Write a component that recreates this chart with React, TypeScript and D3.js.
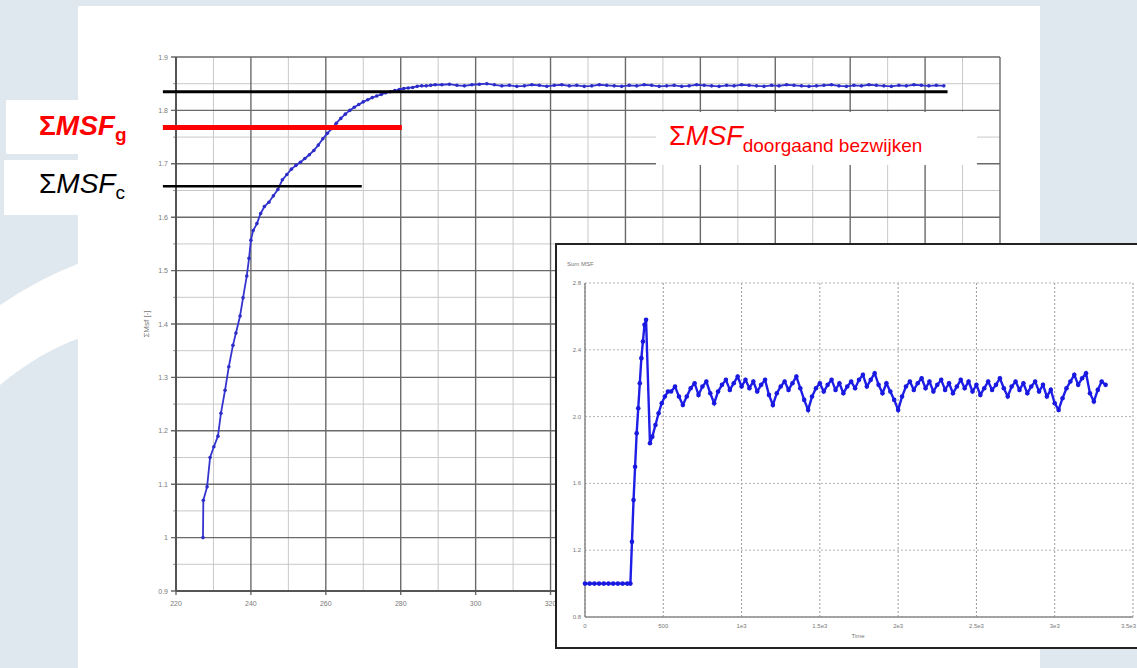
import * as d3 from "d3";

// main chart: sum MSF vs. load step
const mainX = [
  227.2, 227.3, 228.3, 229.1, 230.1, 231.2, 232.0, 233.1, 234.1, 235.2,
  236.0, 237.1, 237.9, 238.9, 239.5, 240.0, 240.6, 241.6, 242.6, 243.6,
  244.8, 246.0, 247.2, 248.4, 249.6, 250.8, 252.0, 253.2, 254.4, 255.6,
  256.8, 258.0, 259.2, 260.4, 261.6, 262.8, 264.0, 265.2, 266.4, 267.6,
  268.8, 270.0, 271.2, 272.4, 273.6, 274.8, 276.0, 277.2, 278.4, 279.6,
  280.8, 282.0, 283.2, 284.4, 285.6, 286.8, 288.0, 289.2,
];
const mainY = [
  1.0, 1.07, 1.095, 1.15, 1.17, 1.19, 1.233, 1.276, 1.32, 1.36,
  1.383, 1.415, 1.449, 1.49, 1.523, 1.557, 1.575, 1.588, 1.607, 1.62,
  1.628, 1.64, 1.652, 1.67, 1.68, 1.69, 1.697, 1.703, 1.71, 1.717,
  1.725, 1.735, 1.747, 1.757, 1.766, 1.776, 1.785, 1.793, 1.8, 1.806,
  1.811, 1.816, 1.82, 1.824, 1.827, 1.83, 1.833, 1.835, 1.837, 1.839,
  1.841, 1.842, 1.843, 1.845, 1.846, 1.846, 1.847, 1.848,
];
// plateau, one reading every 2 steps from 291
const plateauStart = 291;
const mainPlateau = [
  1.848, 1.849, 1.847, 1.846, 1.848, 1.849, 1.850, 1.848, 1.846, 1.847,
  1.845, 1.846, 1.848, 1.847, 1.845, 1.847, 1.848, 1.846, 1.847, 1.845,
  1.846, 1.848, 1.847, 1.846, 1.845, 1.847, 1.846, 1.848, 1.847, 1.845,
  1.846, 1.847, 1.845, 1.846, 1.848, 1.847, 1.846, 1.845, 1.847, 1.846,
  1.848, 1.847, 1.846, 1.845, 1.847, 1.846, 1.848, 1.847, 1.846, 1.845,
  1.846, 1.847, 1.848, 1.846, 1.845, 1.847, 1.846, 1.848, 1.847, 1.846,
  1.845, 1.847, 1.846, 1.848, 1.847, 1.846, 1.847, 1.846,
];

// reference levels drawn over the main chart
const refLines = [
  { v: 1.835, x0: 216.5, x1: 426, color: "#000", w: 3 },
  { v: 1.768, x0: 216.5, x1: 280.3, color: "#ff0000", w: 5 },
  { v: 1.658, x0: 216.5, x1: 269.6, color: "#000", w: 2.5 },
];

// inset: sum MSF vs time
const insetStartT = [0, 30, 60, 90, 120, 150, 180, 210, 240, 270, 290, 300, 310, 320, 330, 340, 350, 360, 370, 380, 390, 415, 430, 450, 470, 490, 510, 530];
const insetStartV = [1.0, 1.0, 1.0, 1.0, 1.0, 1.0, 1.0, 1.0, 1.0, 1.0, 1.0, 1.25, 1.5, 1.7, 1.9, 2.05, 2.2, 2.35, 2.45, 2.55, 2.58, 1.84, 1.88, 1.95, 2.02, 2.08, 2.12, 2.15];
const insetPlateauStart = 550;
const insetPlateau = [
  2.15, 2.18, 2.12, 2.07, 2.12, 2.17, 2.2, 2.13, 2.18, 2.21,
  2.14, 2.08, 2.15, 2.19, 2.22, 2.16, 2.2, 2.24, 2.18, 2.22,
  2.17, 2.21, 2.15, 2.19, 2.22, 2.13, 2.07, 2.14, 2.18, 2.21,
  2.16, 2.2, 2.24, 2.17, 2.1, 2.04, 2.12, 2.17, 2.2, 2.15,
  2.19, 2.22, 2.16, 2.2, 2.14, 2.18, 2.21, 2.17, 2.22, 2.25,
  2.18, 2.22, 2.26, 2.19, 2.14, 2.2, 2.15, 2.1, 2.04, 2.12,
  2.18, 2.21, 2.16, 2.2, 2.23, 2.17, 2.21, 2.15, 2.19, 2.22,
  2.16, 2.2, 2.14, 2.18, 2.22, 2.17, 2.21, 2.15, 2.19, 2.13,
  2.17, 2.21, 2.16, 2.19, 2.23, 2.17, 2.12, 2.18, 2.21, 2.16,
  2.2, 2.14, 2.18, 2.21, 2.15, 2.19, 2.12, 2.16, 2.08, 2.04,
  2.11, 2.17, 2.21, 2.25, 2.19, 2.23, 2.26, 2.14, 2.09, 2.16,
  2.21, 2.19,
];
const insetXTicks = [0, 500, 1000, 1500, 2000, 2500, 3000, 3500];
const insetXLabels = ["0", "500", "1e3", "1.5e3", "2e3", "2.5e3", "3e3", "3.5e3"];
const insetYTicks = [0.8, 1.2, 1.6, 2.0, 2.4, 2.8];

const FONT = "Liberation Sans, Arial, sans-serif";

export default function App() {
  const x = d3.scaleLinear().domain([220, 440]).range([176, 1000]);
  const y = d3.scaleLinear().domain([0.9, 1.9]).range([591, 57]);
  const xi = d3.scaleLinear().domain([0, 3500]).range([585, 1133]);
  const yi = d3.scaleLinear().domain([0.8, 2.8]).range([617, 283]);

  const mainData: [number, number][] = [
    ...mainX.map((d, i) => [d, mainY[i]] as [number, number]),
    ...mainPlateau.map((v, i) => [plateauStart + i * 2, v] as [number, number]),
  ];
  const insetData: [number, number][] = [
    ...insetStartT.map((t, i) => [t, insetStartV[i]] as [number, number]),
    ...insetPlateau.map((v, i) => [insetPlateauStart + i * 25, v] as [number, number]),
  ];

  const line = d3.line<[number, number]>().x((d) => x(d[0])).y((d) => y(d[1]));
  const lineI = d3.line<[number, number]>().x((d) => xi(d[0])).y((d) => yi(d[1]));

  const xMajor = x.ticks(11);
  const xMinor = x.ticks(22).filter((t) => !xMajor.includes(t));
  const yMajor = y.ticks(10);
  const yMinor = y.ticks(20).filter((t) => !yMajor.some((m) => Math.abs(m - t) < 1e-9));
  const fmt = d3.format("~g");

  return (
    <svg width={1137} height={668} style={{ position: "absolute", left: 0, top: 0 }} fontFamily={FONT}>
      {/* slide background */}
      <rect width={1137} height={668} fill="#dfe7ef" />
      <path d="M0,305 Q40,278 80,263 L80,338 Q40,352 0,385 Z" fill="#fff" />
      <rect x={78} y={6} width={962} height={662} fill="#fff" />

      {/* main grid */}
      <g>
        {xMinor.map((t) => (
          <line key={"xm" + t} x1={x(t)} x2={x(t)} y1={y(1.9)} y2={y(0.9)} stroke="#c9c9c9" strokeWidth={1} />
        ))}
        {yMinor.map((t) => (
          <line key={"ym" + t} x1={x(220)} x2={x(440)} y1={y(t)} y2={y(t)} stroke="#c9c9c9" strokeWidth={1} />
        ))}
        {xMajor.map((t) => (
          <line key={"xM" + t} x1={x(t)} x2={x(t)} y1={y(1.9)} y2={y(0.9) + 4} stroke="#6a6a6a" strokeWidth={1.4} />
        ))}
        {yMajor.map((t) => (
          <line key={"yM" + t} x1={x(220) - 5} x2={x(440)} y1={y(t)} y2={y(t)} stroke="#6a6a6a" strokeWidth={1.4} />
        ))}
        {yMinor.map((t) => (
          <line key={"ymt" + t} x1={x(220) - 3} x2={x(220)} y1={y(t)} y2={y(t)} stroke="#999" strokeWidth={1} />
        ))}
        <line x1={x(220)} x2={x(220)} y1={y(1.9)} y2={y(0.9)} stroke="#555" strokeWidth={2} />
        <line x1={x(220)} x2={x(440)} y1={y(0.9)} y2={y(0.9)} stroke="#555" strokeWidth={2} />
      </g>
      <g fontSize={7} fill="#7a7a7a">
        {yMajor.map((t) => (
          <text key={"yl" + t} x={x(220) - 8} y={y(t) + 2.5} textAnchor="end">
            {fmt(t)}
          </text>
        ))}
        {xMajor.map((t) => (
          <text key={"xl" + t} x={x(t)} y={y(0.9) + 15} textAnchor="middle">
            {t}
          </text>
        ))}
        <text transform={`translate(149,${y(1.4)}) rotate(-90)`} textAnchor="middle" fontSize={8}>
          ΣMsf [-]
        </text>
      </g>

      {/* main series */}
      <path d={line(mainData) ?? ""} fill="none" stroke="#3434d0" strokeWidth={1.8} />
      {mainData.map((d, i) => (
        <circle key={"mp" + i} cx={x(d[0])} cy={y(d[1])} r={1.8} fill="#2c2cc8" />
      ))}

      {/* reference levels */}
      {refLines.map((r, i) => (
        <line key={"ref" + i} x1={x(r.x0)} x2={x(r.x1)} y1={y(r.v)} y2={y(r.v)} stroke={r.color} strokeWidth={r.w} />
      ))}

      {/* labels on the left */}
      <rect x={6} y={100} width={110} height={54} fill="#fff" />
      <rect x={4} y={160} width={110} height={55} fill="#fff" />
      <text x={39} y={135} fontSize={28} fill="#ff0000" fontWeight="bold">
        Σ<tspan fontStyle="italic">MSF</tspan>
        <tspan fontSize={19} dy={6}>g</tspan>
      </text>
      <text x={39} y={193} fontSize={28} fill="#000">
        Σ<tspan fontStyle="italic">MSF</tspan>
        <tspan fontSize={19} dy={6}>c</tspan>
      </text>

      <rect x={656} y={112} width={321} height={53} fill="#fff" />
      <text x={669} y={145} fontSize={27} fill="#ff0000">
        Σ<tspan fontStyle="italic">MSF</tspan>
        <tspan fontSize={19} dy={7}>doorgaand bezwijken</tspan>
      </text>

      {/* inset */}
      <rect x={556} y={244} width={590} height={404} fill="#fff" stroke="#222" strokeWidth={2} />
      <g>
        {insetXTicks.map((t) => (
          <line key={"ixg" + t} x1={xi(t)} x2={xi(t)} y1={yi(2.8)} y2={yi(0.8)} stroke="#9a9a9a" strokeWidth={1} strokeDasharray="2,2" />
        ))}
        {insetYTicks.map((t) => (
          <line key={"iyg" + t} x1={xi(0)} x2={xi(3500)} y1={yi(t)} y2={yi(t)} stroke="#b5b5b5" strokeWidth={1} strokeDasharray="2,2" />
        ))}
        <line x1={xi(0)} x2={xi(0)} y1={yi(2.8)} y2={yi(0.8)} stroke="#8a8a8a" strokeWidth={1.5} />
        <line x1={xi(0)} x2={xi(3500)} y1={yi(0.8)} y2={yi(0.8)} stroke="#8a8a8a" strokeWidth={1.5} />
      </g>
      <g fontSize={6} fill="#777">
        {insetYTicks.map((t) => (
          <text key={"iyl" + t} x={xi(0) - 4} y={yi(t) + 2} textAnchor="end">
            {t.toFixed(1)}
          </text>
        ))}
        {insetXTicks.map((t, i) => (
          <text
            key={"ixl" + t}
            x={i === insetXTicks.length - 1 ? 1136 : xi(t)}
            y={yi(0.8) + 11}
            textAnchor={i === insetXTicks.length - 1 ? "end" : "middle"}
          >
            {insetXLabels[i]}
          </text>
        ))}
        <text x={567} y={266}>Sum MSF</text>
        <text x={858} y={638} textAnchor="middle">Time</text>
      </g>
      <path d={lineI(insetData) ?? ""} fill="none" stroke="#1e1ee6" strokeWidth={2.4} />
      {insetData.map((d, i) => (
        <circle key={"ip" + i} cx={xi(d[0])} cy={yi(d[1])} r={2.3} fill="#1818e0" />
      ))}
    </svg>
  );
}
